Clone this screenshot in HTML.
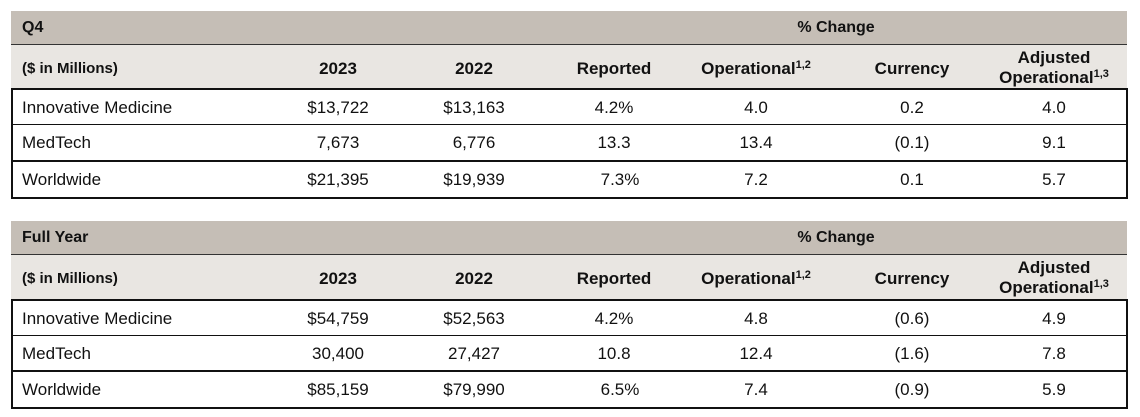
<!DOCTYPE html>
<html><head><style>
body{margin:0;width:1140px;height:417px;background:#fff;font-family:"Liberation Sans",Arial,sans-serif;position:relative;overflow:hidden}
.a{position:absolute}
.h1{background:#c5beb6;left:11px;width:1116px;height:33px;border-bottom:1px solid #333}
.h2{background:#e9e6e2;left:11px;width:1116px}
.b{font-weight:bold;font-size:16px;color:#111}
.t{font-size:17px;color:#111}
.c{position:absolute;transform:translateX(-50%);white-space:nowrap;text-align:center}
.box{position:absolute;left:11px;width:1113px;border:2px solid #111;box-sizing:content-box}
.ln{position:absolute;left:11px;width:1116px;background:#111}
sup{font-size:11px;vertical-align:6px;line-height:0}
</style></head><body>
<!-- Table 1 -->
<div class="a h1" style="top:11px"></div>
<div class="a h2" style="top:45px;height:44px"></div>
<div class="a b" style="left:22px;top:19px">Q4</div>
<div class="c b" style="left:836px;top:19px">% Change</div>
<div class="a b" style="left:22px;top:60px;font-size:15px">($ in Millions)</div>
<div class="c b" style="left:338px;top:59px;font-size:17px">2023</div>
<div class="c b" style="left:474px;top:59px;font-size:17px">2022</div>
<div class="c b" style="left:614px;top:59px;font-size:17px">Reported</div>
<div class="c b" style="left:756px;top:59px;font-size:17px">Operational<sup>1,2</sup></div>
<div class="c b" style="left:912px;top:59px;font-size:17px">Currency</div>
<div class="c b" style="left:1054px;top:48px;font-size:17px;line-height:20px">Adjusted<br>Operational<sup>1,3</sup></div>
<div class="box" style="top:88px;height:107px"></div>
<div class="ln" style="top:124px;height:1px"></div>
<div class="ln" style="top:160px;height:2px"></div>
<div class="a t" style="left:22px;top:98px">Innovative Medicine</div>
<div class="c t" style="left:338px;top:98px">$13,722</div><div class="c t" style="left:474px;top:98px">$13,163</div><div class="c t" style="left:614px;top:98px">4.2%</div><div class="c t" style="left:756px;top:98px">4.0</div><div class="c t" style="left:912px;top:98px">0.2</div><div class="c t" style="left:1054px;top:98px">4.0</div>
<div class="a t" style="left:22px;top:133px">MedTech</div>
<div class="c t" style="left:338px;top:133px">7,673</div><div class="c t" style="left:474px;top:133px">6,776</div><div class="c t" style="left:614px;top:133px">13.3</div><div class="c t" style="left:756px;top:133px">13.4</div><div class="c t" style="left:912px;top:133px">(0.1)</div><div class="c t" style="left:1054px;top:133px">9.1</div>
<div class="a t" style="left:22px;top:170px">Worldwide</div>
<div class="c t" style="left:338px;top:170px">$21,395</div><div class="c t" style="left:474px;top:170px">$19,939</div><div class="c t" style="left:620px;top:170px">7.3%</div><div class="c t" style="left:756px;top:170px">7.2</div><div class="c t" style="left:912px;top:170px">0.1</div><div class="c t" style="left:1054px;top:170px">5.7</div>

<!-- Table 2 -->
<div class="a h1" style="top:221px"></div>
<div class="a h2" style="top:255px;height:45px"></div>
<div class="a b" style="left:22px;top:229px">Full Year</div>
<div class="c b" style="left:836px;top:229px">% Change</div>
<div class="a b" style="left:22px;top:270px;font-size:15px">($ in Millions)</div>
<div class="c b" style="left:338px;top:269px;font-size:17px">2023</div>
<div class="c b" style="left:474px;top:269px;font-size:17px">2022</div>
<div class="c b" style="left:614px;top:269px;font-size:17px">Reported</div>
<div class="c b" style="left:756px;top:269px;font-size:17px">Operational<sup>1,2</sup></div>
<div class="c b" style="left:912px;top:269px;font-size:17px">Currency</div>
<div class="c b" style="left:1054px;top:258px;font-size:17px;line-height:20px">Adjusted<br>Operational<sup>1,3</sup></div>
<div class="box" style="top:299px;height:106px"></div>
<div class="ln" style="top:335px;height:1px"></div>
<div class="ln" style="top:370px;height:2px"></div>
<div class="a t" style="left:22px;top:309px">Innovative Medicine</div>
<div class="c t" style="left:338px;top:309px">$54,759</div><div class="c t" style="left:474px;top:309px">$52,563</div><div class="c t" style="left:614px;top:309px">4.2%</div><div class="c t" style="left:756px;top:309px">4.8</div><div class="c t" style="left:912px;top:309px">(0.6)</div><div class="c t" style="left:1054px;top:309px">4.9</div>
<div class="a t" style="left:22px;top:344px">MedTech</div>
<div class="c t" style="left:338px;top:344px">30,400</div><div class="c t" style="left:474px;top:344px">27,427</div><div class="c t" style="left:614px;top:344px">10.8</div><div class="c t" style="left:756px;top:344px">12.4</div><div class="c t" style="left:912px;top:344px">(1.6)</div><div class="c t" style="left:1054px;top:344px">7.8</div>
<div class="a t" style="left:22px;top:380px">Worldwide</div>
<div class="c t" style="left:338px;top:380px">$85,159</div><div class="c t" style="left:474px;top:380px">$79,990</div><div class="c t" style="left:620px;top:380px">6.5%</div><div class="c t" style="left:756px;top:380px">7.4</div><div class="c t" style="left:912px;top:380px">(0.9)</div><div class="c t" style="left:1054px;top:380px">5.9</div>
</body></html>
